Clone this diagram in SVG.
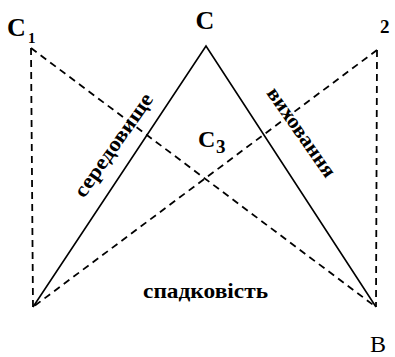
<svg xmlns="http://www.w3.org/2000/svg" width="395" height="357" viewBox="0 0 395 357">
<style>
.solid{stroke:#000;stroke-width:1.6;fill:none}
.dash{stroke:#000;stroke-width:1.8;fill:none;stroke-dasharray:7 5}
.lbl{font-family:"Liberation Serif","DejaVu Serif",serif;font-weight:bold;fill:#000}
.reg{font-family:"Liberation Serif","DejaVu Serif",serif;fill:#000}
</style>
<rect width="395" height="357" fill="#fff"/>
<g id="connectors">
<polyline class="solid" points="33,307 206,46 376,307"/>
<line class="dash" x1="31" y1="48" x2="33" y2="307"/>
<line class="dash" x1="31" y1="48" x2="376" y2="307"/>
<line class="dash" x1="377" y1="50" x2="376" y2="307"/>
<line class="dash" x1="377" y1="50" x2="33" y2="307"/>
</g>
<g id="node-C"><text class="lbl" x="205" y="29" font-size="26" text-anchor="middle">C</text></g>
<g id="node-C1"><text class="lbl" x="7" y="36" font-size="26">C</text><text class="lbl" x="28" y="43" font-size="15">1</text></g>
<g id="node-2"><text class="lbl" x="380" y="33" font-size="19">2</text></g>
<g id="node-C3"><text class="lbl" x="198" y="147" font-size="24">C</text><text class="lbl" x="216" y="153" font-size="19">3</text></g>
<g id="node-B"><text class="reg" x="370" y="352" font-size="24">B</text></g>
<g id="label-seredovyshche"><text class="lbl" font-size="21" text-anchor="middle" textLength="122" lengthAdjust="spacingAndGlyphs" transform="translate(119,149) rotate(-55)">середовище</text></g>
<g id="label-vykhovannia"><text class="lbl" font-size="21" text-anchor="middle" textLength="105" lengthAdjust="spacingAndGlyphs" transform="translate(296,136) rotate(55)">виховання</text></g>
<g id="label-spadkovist"><text class="lbl" x="143" y="298" font-size="21" textLength="125" lengthAdjust="spacingAndGlyphs">спадковість</text></g>
</svg>
